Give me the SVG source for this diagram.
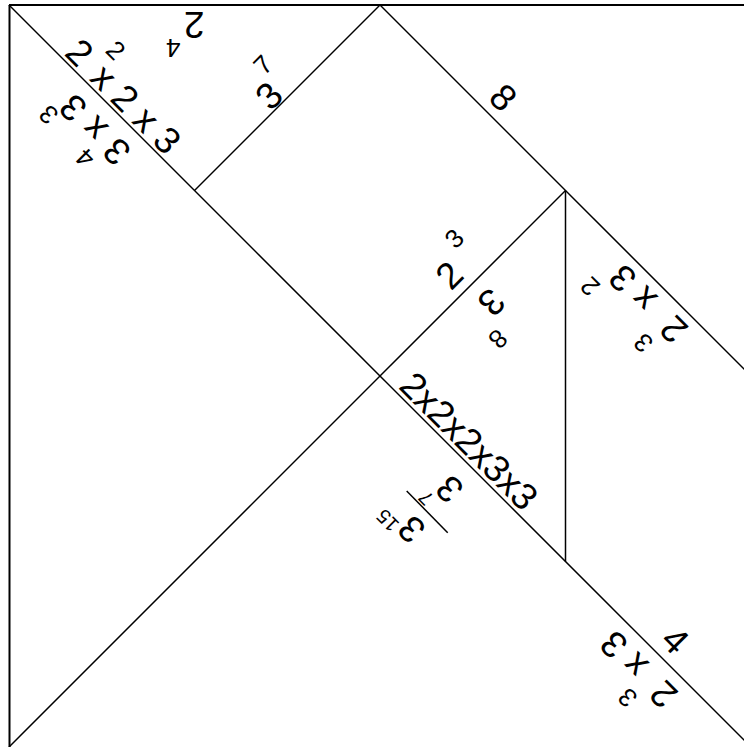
<svg xmlns="http://www.w3.org/2000/svg" width="744" height="747" viewBox="0 0 744 747">
<style>
  text { font-family: "Liberation Sans", Arial, sans-serif; font-size: 37px; fill: #000; }
  .sup { font-size: 26px; }
  .edge { stroke: #000; stroke-width: 1.5; fill: none; }
  .outer { stroke-width: 2; }
</style>
<rect x="0" y="0" width="744" height="747" fill="#fff"/>
<g id="connectors">
  <line class="edge outer" x1="9" y1="5" x2="751" y2="5"/>
  <line class="edge outer" x1="9.5" y1="5" x2="9.5" y2="747"/>
  <line class="edge" x1="9" y1="5" x2="751" y2="747"/>
  <line class="edge" x1="9" y1="747" x2="565.5" y2="190.5"/>
  <line class="edge" x1="194.5" y1="190.5" x2="380" y2="5"/>
  <line class="edge" x1="380" y1="5" x2="751" y2="376"/>
  <line class="edge" x1="565.5" y1="190.5" x2="565.5" y2="561.5"/>
</g>
<g id="top-left-triangle">
  <text transform="translate(63.2,54.2) rotate(45)"><tspan x="0" y="0">2</tspan><tspan class="sup" x="27.2" y="-31">2</tspan><tspan x="35.75" y="0">x 2 x 3</tspan></text>
  <text transform="translate(204.4,11.5) rotate(180)"><tspan x="0" y="0">2</tspan><tspan class="sup" x="23.9" y="-27.5">4</tspan></text>
  <text transform="translate(270.8,112) rotate(-45)"><tspan x="0" y="0">3</tspan><tspan class="sup" x="20.7" y="-29.9">7</tspan></text>
</g>
<g id="top-right-triangle">
  <text transform="translate(486.9,99.2) rotate(45)">8</text>
</g>
<g id="square">
  <text transform="translate(451.1,291.5) rotate(-45)"><tspan x="0" y="0">2</tspan><tspan class="sup" x="32.5" y="-26.3">3</tspan></text>
</g>
<g id="middle-triangle">
  <text transform="translate(489.7,285.9) rotate(135)"><tspan x="0" y="0">3</tspan><tspan class="sup" x="24.4" y="-34.3">8</tspan></text>
  <text transform="translate(397.5,387.4) rotate(45)" font-size="38">2x2x2x3x3</text>
</g>
<g id="left-triangle">
  <text transform="translate(133,150) rotate(225)"><tspan x="0" y="0">3</tspan><tspan class="sup" x="20.9" y="-30.6">4</tspan><tspan x="32.95" y="0">x 3</tspan><tspan class="sup" x="77.4" y="-25.9">3</tspan></text>
</g>
<g id="parallelogram">
  <text transform="translate(689.9,327.8) rotate(225)"><tspan x="0" y="0">2</tspan><tspan class="sup" x="15" y="-34.7">3</tspan><tspan x="43.55" y="0">x 3</tspan><tspan class="sup" x="92.7" y="-32.4">2</tspan></text>
  <text transform="translate(659,641.9) rotate(45)">4</text>
</g>
<g id="bottom-triangle">
  <text transform="translate(427.8,527.8) rotate(225)" font-size="28"><tspan x="0" y="0">3</tspan><tspan x="22.5" y="-16.3" font-size="20">15</tspan><tspan x="1.6" y="55.3">3</tspan><tspan x="16.9" y="26.6" font-size="20">7</tspan></text>
  <line class="edge" x1="406.7" y1="491" x2="447.7" y2="532.7"/>
  <text transform="translate(679.7,692.7) rotate(225)"><tspan x="0" y="0">2</tspan><tspan class="sup" x="26.1" y="-31.6">3</tspan><tspan x="41.65" y="0">x 3</tspan></text>
</g>
</svg>
